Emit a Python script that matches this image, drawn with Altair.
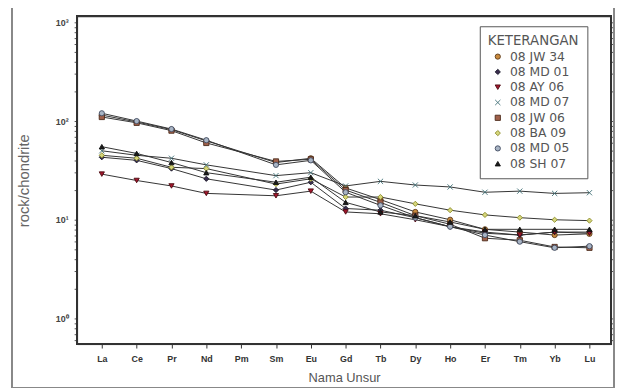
import altair as alt
import pandas as pd

elements = ["La", "Ce", "Pr", "Nd", "Pm", "Sm", "Eu", "Gd", "Tb", "Dy", "Ho", "Er", "Tm", "Yb", "Lu"]
series = ["08 JW 34", "08 MD 01", "08 AY 06", "08 MD 07", "08 JW 06", "08 BA 09", "08 MD 05", "08 SH 07"]

jw34 = [115, 98, 82, 63, None, 38, 42, 21, 16, 12, 10, 8.0, 7.5, 7.0, 7.2]
md01 = [43, 40, 33, 26, None, 20, 24, 13, 12.5, 10.5, 8.5, 7.3, 7.0, 7.5, 7.5]
ay06 = [29, 25, 22, 18.5, None, 17.5, 19.5, 12, 11.5, 10, 8.5, 7.5, 7.0, 7.5, 7.3]
md07 = [50, 45, 42, 36, None, 28, 30, 22, 24.5, 22.5, 21.5, 19, 19.5, 18.5, 18.8]
jw06 = [110, 96, 80, 60, None, 39, 41, 20, 15, 11, 9, 6.5, 6.2, 5.3, 5.2]
ba09 = [45, 42, 34, 33, None, 23, 26, 17, 17, 14.5, 12.5, 11.2, 10.5, 10, 9.8]
md05 = [120, 100, 83, 64, None, 36, 40, 19, 14, 10.5, 8.5, 7.0, 6.0, 5.2, 5.4]
sh07 = [55, 47, 38, 30, None, 24, 27, 15, 12, 11, 9.5, 8.0, 8.0, 8.0, 8.0]

all_values = [jw34, md01, ay06, md07, jw06, ba09, md05, sh07]

fills = ["#c98a3e", "#3a2d4d", "#a3172e", "#4d8088", "#a0604a", "#d6d67a", "#a8b4c4", "#1a1a1a"]
strokes = ["#5a3a1a", "#1a1a2a", "#4a0a10", "#3d6d74", "#4a2a1a", "#8a8a2a", "#404a60", "#111111"]
shapes = ["circle", "diamond", "triangle-down", "M-1,-1L1,1M-1,1L1,-1",
          "square", "diamond", "circle", "triangle-up"]

rows = []
for s, vals in zip(series, all_values):
    for i, (e, v) in enumerate(zip(elements, vals)):
        if v is not None:
            rows.append({"series": s, "idx": i, "element": e, "value": v})
df = pd.DataFrame(rows)

minor = []
for d in [0.1, 1, 10, 100]:
    for k in range(1, 10):
        val = round(k * d, 3)
        if 0.55 <= val <= 1150:
            minor.append(val)
minor.append(1000)

W, H = 541, 332
FONT = "Liberation Sans"
LFONT = "DejaVu Sans"

names_expr = "[" + ",".join("'%s'" % e for e in elements) + "][datum.value]"

x_scale = alt.Scale(domain=[-0.71, 14.62], nice=False, zero=False)
x_enc = alt.X("idx:Q", scale=x_scale,
              axis=alt.Axis(values=list(range(len(elements))), labelExpr=names_expr,
                            title="Nama Unsur", grid=False, tickSize=4,
                            labelFont=FONT, labelFontSize=9, labelFontWeight="bold",
                            labelColor="#333", titleFont=FONT, titleFontSize=13,
                            titleFontWeight="normal", titleColor="#555",
                            titlePadding=8, domainColor="#333", tickColor="#333",
                            labelPadding=7))

y_scale = alt.Scale(type="log", domain=[0.55, 1150], nice=False)

y_left = alt.Y("value:Q", scale=y_scale,
               axis=alt.Axis(values=minor,
                             labelExpr="datum.value==1?'10⁰':datum.value==10?'10¹':datum.value==100?'10²':datum.value==1000?'10³':''",
                             title="rock/chondrite", grid=False, tickSize=3,
                             labelFont=FONT, labelFontSize=9, labelFontWeight="bold",
                             labelColor="#444", titleFont=FONT, titleFontSize=15,
                             titleFontWeight="normal", titleColor="#666",
                             titlePadding=24, domainColor="#333", tickColor="#555",
                             labelPadding=6))

y_right = alt.Y("value:Q", scale=y_scale,
                axis=alt.Axis(orient="right", values=minor, labels=False, title=None,
                              grid=False, tickSize=3, domainColor="#333", tickColor="#555"))

lines = alt.Chart(df).mark_line(color="#333", strokeWidth=1).encode(
    x=x_enc, y=y_left, detail="series:N", order="idx:Q")

points = alt.Chart(df).mark_point(filled=True, size=28, strokeWidth=0.9, opacity=1).encode(
    x=x_enc,
    y=y_right,
    fill=alt.Fill("series:N", scale=alt.Scale(domain=series, range=fills),
                  legend=alt.Legend(title="KETERANGAN")),
    stroke=alt.Stroke("series:N", scale=alt.Scale(domain=series, range=strokes),
                      legend=alt.Legend(title="KETERANGAN")),
    shape=alt.Shape("series:N", scale=alt.Scale(domain=series, range=shapes),
                    legend=alt.Legend(title="KETERANGAN")),
)

frame = alt.Chart(df).mark_rect(fill=None, stroke="#888", strokeWidth=1).encode(
    x=alt.value(-66), x2=alt.value(W + 3), y=alt.value(-13), y2=alt.value(H + 44))

plotbox = alt.Chart(df).mark_rect(fill=None, stroke="#333", strokeWidth=1.2).encode(
    x=alt.value(0), x2=alt.value(W), y=alt.value(0), y2=alt.value(H))

chart = alt.layer(frame, plotbox, lines, points).resolve_axis(y="independent").properties(
    width=W, height=H,
    autosize=alt.AutoSizeParams(type="none"),
    padding={"left": 70, "top": 6, "right": 4, "bottom": 42},
).configure_view(stroke="#333", strokeWidth=1.2).configure_legend(
    orient="none", legendX=408, legendY=10,
    strokeColor="#555", fillColor="white", padding=8,
    titleFont=LFONT, titleFontSize=13.5, titleFontWeight="normal", titleColor="#555",
    labelFont=LFONT, labelFontSize=12.5, labelColor="#555",
    symbolSize=28, rowPadding=2.5, titlePadding=3, symbolStrokeWidth=0.9,
    labelOffset=6, symbolOffset=4,
)

chart.save("out.html", embed_options={"renderer": "svg", "actions": False})
